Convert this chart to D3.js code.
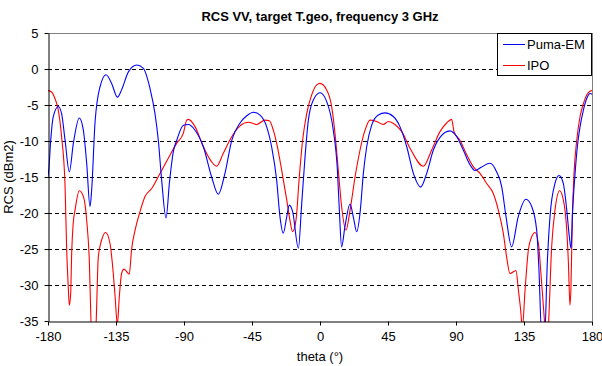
<!DOCTYPE html>
<html><head><meta charset="utf-8">
<script src="https://cdn.jsdelivr.net/npm/d3@7"></script>
<style>
body{margin:0;background:#fff;}
text{font-family:"Liberation Sans",Arial,sans-serif;}
</style></head>
<body><svg id="c" width="602" height="366"></svg>
<script>
const title = "RCS VV, target T.geo, frequency 3 GHz";
const xLabel = "theta (°)";
const yLabel = "RCS (dBm2)";
const xTicks = [-180,-135,-90,-45,0,45,90,135,180];
const yTicks = [5,0,-5,-10,-15,-20,-25,-30,-35];
const seriesNames = ["Puma-EM","IPO"];

const thetaPuma = [-180,-179.4,-178.2,-176.5,-173.2,-171,-168.7,-165.9,-163.2,-159.3,-156.6,-154.4,-152.2,-151.1,-148.9,-145.6,-141.6,-137.9,-134.1,-131.3,-126.8,-121.3,-116.9,-112.5,-109.2,-107,-104.8,-101.9,-99.6,-97,-94.8,-90.4,-87.1,-82.7,-77.2,-71.7,-67.3,-62.9,-58.4,-52.9,-48.5,-44.1,-39.7,-35.3,-32,-28.7,-26.5,-24.3,-22,-20.3,-18.1,-14.3,-12.1,-9.9,-7.7,-4.4,0,4.4,8.8,11.5,12.8,14.3,16.5,19.9,22,24.3,26.5,28.7,30.9,34.2,38.6,43,48.5,52.9,57.4,61.8,66.6,70.6,75,79.4,86,90.5,94.8,99.3,102.6,107,112.5,116.9,120.2,123.1,126.8,131.2,136.3,140.1,143.4,144.9,146.7,148.7,150.4,152.2,155.5,158.2,161,163.3,165,166.1,167.2,168.8,170.3,172.1,174.3,176.5,178.7,180];
const rcsPuma = [-15,-13.8,-9.9,-6.6,-5.2,-6.2,-9.9,-14.3,-10.3,-6.8,-8.5,-13.1,-19.1,-16.8,-7.5,-2.5,-0.8,-2.0,-3.9,-2.9,-0.4,0.55,0.1,-2.7,-6.2,-9.9,-15.4,-20.7,-15.7,-11.4,-9.9,-7.8,-7.7,-8.5,-10.8,-15,-17.4,-14.5,-9.9,-7.5,-6.5,-6.0,-6.4,-8.0,-10.8,-15.4,-20.5,-22.8,-20.5,-18.9,-19.8,-24.9,-18.7,-12.2,-7.1,-4.3,-3.3,-4.5,-8.5,-14,-19.6,-24.7,-21.9,-18.75,-20.5,-22.6,-20,-14.5,-10.8,-7.8,-6.4,-6.1,-6.6,-8.0,-10.8,-14.5,-16.4,-14.5,-11.25,-9.5,-8.6,-9.4,-11.25,-13.3,-14.1,-13.6,-13.1,-14.3,-16.3,-20.5,-24.7,-20.5,-18.1,-19.1,-22.4,-27.9,-37,-37,-27,-20.5,-15.9,-14.8,-15.9,-19.6,-23.3,-24.9,-19.6,-14.5,-10.8,-8.0,-5.7,-4.1,-3.4,-3.5];

const thetaIPO = [-180,-177.8,-175.4,-173.2,-171,-168.7,-167.7,-166.6,-165.9,-165,-164.3,-163.3,-162.1,-159.3,-156.6,-154.4,-152.6,-151.5,-150,-148.2,-146.7,-144.5,-141.8,-139,-136.8,-135.6,-134.1,-132.8,-131.3,-129.7,-126.2,-124.7,-122.4,-119.1,-115.8,-111.4,-105.9,-100.4,-94.8,-90.4,-88.2,-87.1,-82.7,-77.2,-71.7,-68.4,-64,-58.4,-52.9,-47.4,-41.9,-36.4,-33.5,-30.9,-28.7,-25.4,-22,-19.9,-18.1,-15.9,-13.7,-11.5,-8.8,-5.5,-2.2,0,4.4,7.7,9.9,12.1,14.3,17.2,19.9,23.2,26.5,29.8,33.1,37.5,41.9,45.2,49.6,54.1,59.6,68.4,73.9,79.4,83.8,87.1,88.7,92.6,97.1,101.5,105.9,110.3,114.7,118,121.3,123.5,125.7,129.7,131.3,132.8,133.9,135.7,137.9,140.1,142.3,144.5,146.7,148.9,150,151.1,153.3,155.5,158.6,161.5,163.3,164.4,165.4,166.1,167,168.1,169.9,172.1,174.3,176.5,178.7,180];
const rcsIPO = [-3.0,-3.15,-4.1,-5.7,-9.4,-16.3,-24.7,-30.2,-32.8,-31.2,-25.4,-21.4,-19.6,-16.9,-17.7,-21,-27,-35.5,-40,-35.5,-26.1,-23.75,-22.7,-24.2,-28.4,-31.6,-35.5,-31.6,-28.4,-27.8,-28.5,-25.1,-22.4,-19.8,-17.7,-16.6,-14.5,-12.4,-10.3,-8.9,-7.1,-7.0,-8.0,-10.8,-12.9,-13.5,-11.7,-9.4,-7.9,-7.4,-7.7,-7.1,-7.2,-8.5,-10.3,-14,-18.2,-21,-22.6,-21,-15,-9.9,-6.2,-3.6,-2.2,-2.0,-2.9,-5.2,-8.9,-14,-19.1,-22.4,-19.6,-15,-11.25,-8.5,-7.1,-7.3,-7.7,-7.3,-7.7,-8.7,-11,-13.5,-11.25,-8.7,-7.5,-7.0,-8.7,-9.9,-11.9,-13.6,-14.5,-15.9,-17.3,-19.6,-22.8,-26.1,-28.4,-28,-30.7,-33.5,-36,-30.7,-25.1,-23.3,-22.7,-24.2,-29.8,-36,-39,-36,-24.7,-19.6,-16.9,-18.7,-22.4,-27,-32.8,-30.2,-20.5,-14.5,-9.9,-6.6,-4.8,-3.6,-3.1,-3.0];

const colors = ["#0000FF","#FF0000"];

const svg = d3.select("#c");
const L = 48, R = 592, T = 33, B = 321;
const x = d3.scaleLinear().domain([-180,180]).range([L,R]);
const y = d3.scaleLinear().domain([-35,5]).range([B,T]);

// grid
svg.append("g").selectAll("line").data(yTicks.filter(v=>v<5 && v>-35)).join("line")
  .attr("x1",L).attr("x2",R).attr("y1",d=>y(d)+0.5).attr("y2",d=>y(d)+0.5)
  .attr("stroke","#000").attr("stroke-width",1).attr("stroke-dasharray","4,3");

// top & right border (gray)
svg.append("line").attr("x1",L).attr("x2",R+0.5).attr("y1",T+0.5).attr("y2",T+0.5).attr("stroke","#808080");
svg.append("line").attr("x1",R+0.5).attr("x2",R+0.5).attr("y1",T).attr("y2",B).attr("stroke","#808080");

// clip
svg.append("clipPath").attr("id","clip").append("rect").attr("x",L).attr("y",T).attr("width",R-L).attr("height",B-T+1);

const line = d3.line().x(d=>x(d[0])).y(d=>y(d[1])).curve(d3.curveMonotoneX);
const data = [d3.zip(thetaPuma,rcsPuma), d3.zip(thetaIPO,rcsIPO)];
const gl = svg.append("g").attr("clip-path","url(#clip)");
[1,0].forEach(i=>{
  gl.append("path").datum(data[i]).attr("d",line).attr("fill","none")
    .attr("stroke",colors[i]).attr("stroke-width",1.1);
});

// axes
const fmt = d=>String(d);
const xAxis = d3.axisBottom(x).tickValues(xTicks).tickFormat(fmt).tickSize(4).tickSizeOuter(0).tickPadding(6);
const gx = svg.append("g").attr("transform",`translate(0,${B+0.5})`).call(xAxis);
const yAxis = d3.axisLeft(y).tickValues(yTicks).tickFormat(fmt).tickSize(4).tickSizeOuter(0).tickPadding(6);
const gy = svg.append("g").attr("transform",`translate(${L+0.5},0)`).call(yAxis);
[gx,gy].forEach(g=>{
  g.select(".domain").attr("stroke","#000");
  g.selectAll(".tick line").attr("stroke","#000");
  g.selectAll("text").attr("font-size",13).attr("font-family","Liberation Sans, Arial, sans-serif").attr("fill","#000");
});

// title & labels
svg.append("text").attr("x",320).attr("y",21).attr("text-anchor","middle")
  .attr("font-size",13).attr("font-weight","bold").text(title);
svg.append("text").attr("x",320).attr("y",361).attr("text-anchor","middle")
  .attr("font-size",13).text(xLabel);
svg.append("text").attr("transform","translate(13,177) rotate(-90)").attr("text-anchor","middle")
  .attr("font-size",13).text(yLabel);

// legend
const lg = svg.append("g");
lg.append("rect").attr("x",497.5).attr("y",33.5).attr("width",94).attr("height",42)
  .attr("fill","#fff").attr("stroke","#000");
seriesNames.forEach((n,i)=>{
  const yy = 44 + i*21;
  lg.append("line").attr("x1",503).attr("x2",525).attr("y1",yy+0.5).attr("y2",yy+0.5).attr("stroke",colors[i]);
  lg.append("text").attr("x",527).attr("y",yy+5).attr("font-size",13).text(n);
});
</script></body></html>
